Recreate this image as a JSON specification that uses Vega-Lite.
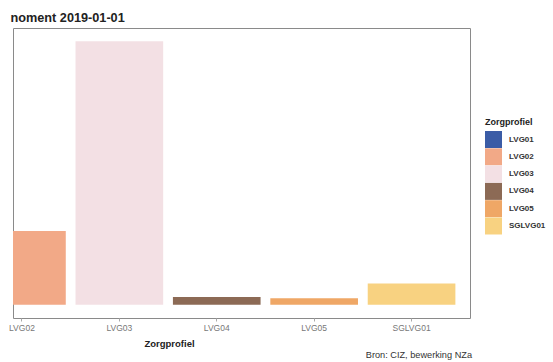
{
  "$schema": "https://vega.github.io/schema/vega-lite/v6.json",
  "width": 457,
  "height": 290,
  "autosize": {"type": "none"},
  "padding": {"left": 13, "top": 28, "right": 83, "bottom": 44},
  "background": "white",
  "config": {
    "font": "Liberation Sans",
    "view": {"stroke": "#8a8a8a", "strokeWidth": 1}
  },
  "title": {
    "text": "Bron: CIZ, bewerking NZa",
    "orient": "bottom",
    "anchor": "end",
    "frame": "group",
    "fontSize": 9.2,
    "fontWeight": "normal",
    "color": "#333",
    "dx": 2,
    "offset": 3
  },
  "data": {
    "values": [
      {"Zorgprofiel": "LVG02", "aantal": 2800},
      {"Zorgprofiel": "LVG03", "aantal": 10000},
      {"Zorgprofiel": "LVG04", "aantal": 300},
      {"Zorgprofiel": "LVG05", "aantal": 250},
      {"Zorgprofiel": "SGLVG01", "aantal": 810}
    ]
  },
  "mark": {"type": "bar", "clip": true},
  "encoding": {
    "x": {
      "field": "Zorgprofiel",
      "type": "nominal",
      "sort": ["LVG02", "LVG03", "LVG04", "LVG05", "SGLVG01"],
      "scale": {"range": [-49.5, 457], "paddingInner": 0.1, "paddingOuter": 0.15},
      "axis": {
        "title": "Zorgprofiel",
        "titleFontSize": 9.5,
        "titleFontWeight": "bold",
        "titleColor": "#222",
        "titleX": 156,
        "titleY": 20,
        "titleAlign": "center",
        "labelAngle": 0,
        "labelFontSize": 8.5,
        "labelColor": "#777",
        "labelPadding": 2,
        "tickSize": 3,
        "tickColor": "#aaa",
        "domain": false
      }
    },
    "y": {
      "field": "aantal",
      "type": "quantitative",
      "scale": {"domain": [-500, 10500], "nice": false, "zero": false},
      "axis": {
        "title": "noment 2019-01-01",
        "titleAngle": 0,
        "titleAlign": "left",
        "titleBaseline": "alphabetic",
        "titleX": -3,
        "titleY": -7,
        "titleFontSize": 12.7,
        "titleFontWeight": "bold",
        "titleColor": "#222",
        "labels": false,
        "ticks": false,
        "domain": false,
        "grid": false
      }
    },
    "y2": {"datum": 0},
    "color": {
      "field": "Zorgprofiel",
      "type": "nominal",
      "scale": {
        "domain": ["LVG01", "LVG02", "LVG03", "LVG04", "LVG05", "SGLVG01"],
        "range": ["#3b5ca6", "#f2a987", "#f3e0e4", "#8c6a55", "#efa766", "#f8d281"]
      },
      "legend": {
        "orient": "none",
        "legendX": 472,
        "legendY": 90,
        "title": "Zorgprofiel",
        "titleFontSize": 9,
        "titleFontWeight": "bold",
        "titleColor": "#222",
        "titlePadding": 4,
        "labelFontSize": 8,
        "labelFontWeight": "bold",
        "labelColor": "#333",
        "symbolType": "square",
        "symbolSize": 289,
        "symbolStrokeWidth": 0,
        "rowPadding": 0.3,
        "labelOffset": 7
      }
    }
  }
}
